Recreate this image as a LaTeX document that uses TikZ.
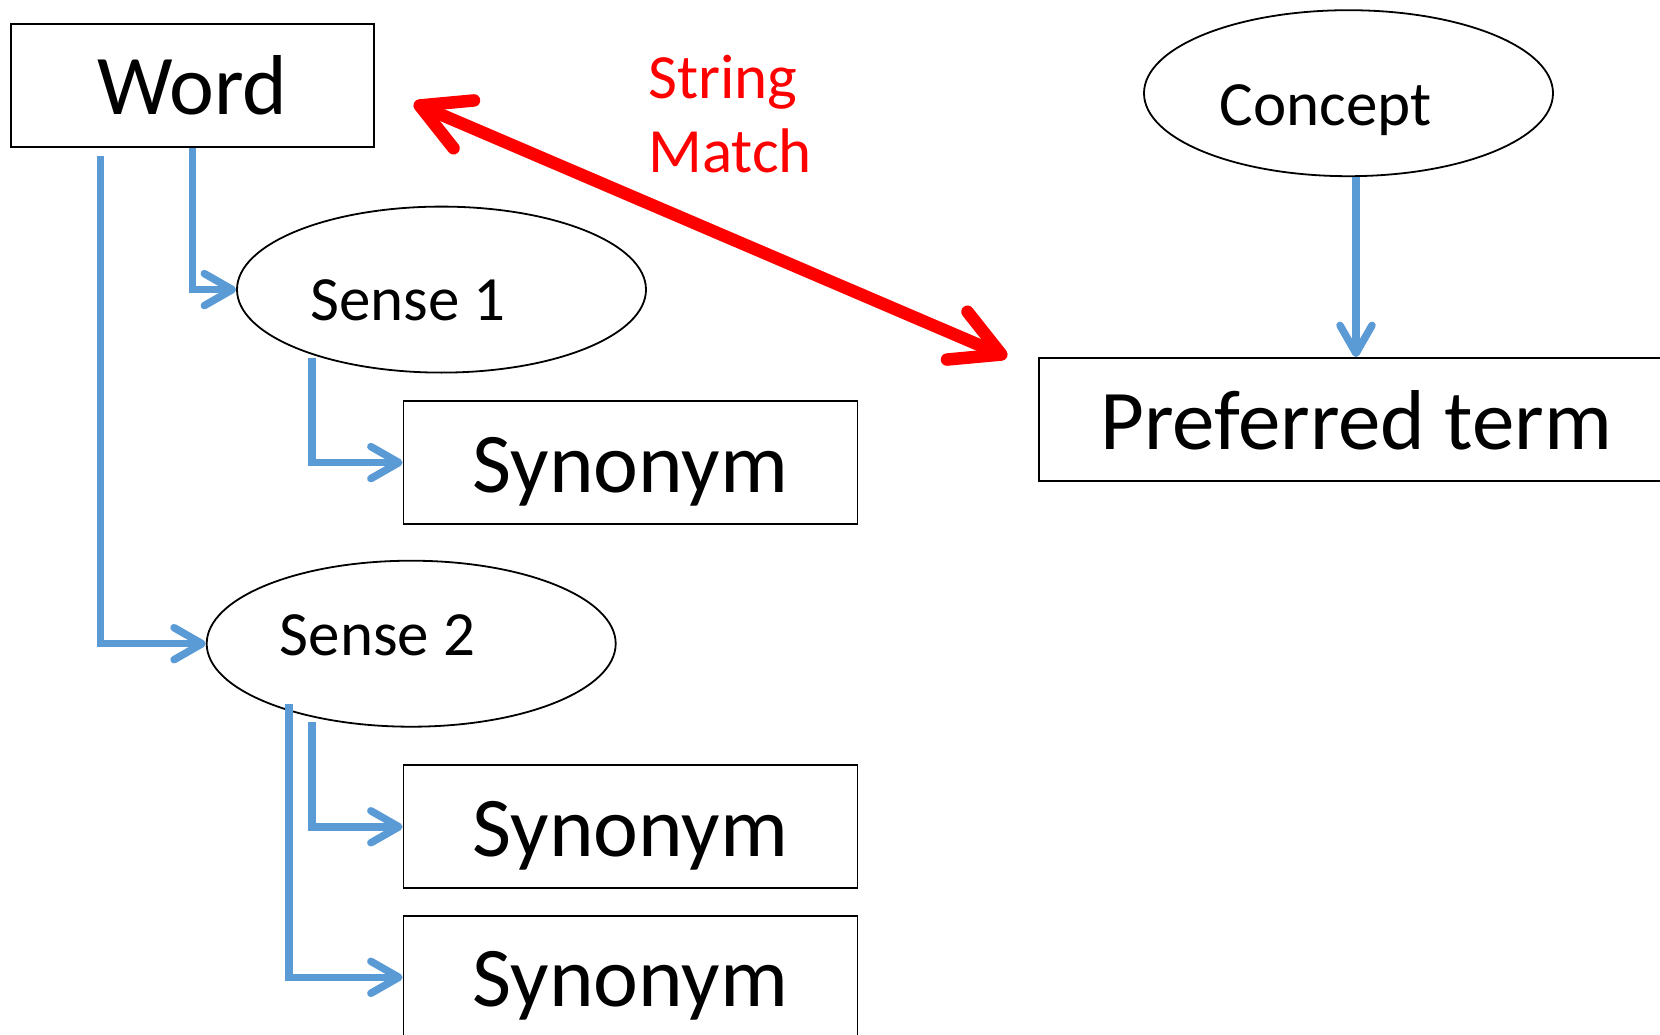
\documentclass[tikz,border=0pt]{standalone}
\usepackage{fontspec}
\setmainfont{Carlito}
\usetikzlibrary{arrows.meta,calc,shapes.geometric}
\definecolor{linkblue}{HTML}{5B9BD5}
\begin{document}
\begin{tikzpicture}[x=1pt,y=-1pt,
  box/.style={draw=black, line width=1.8pt, rectangle, inner sep=0pt,
    minimum width=454pt, minimum height=123pt,
    font=\fontsize{85}{102}\selectfont, text height=59pt, text depth=0pt},
  oval/.style={draw=black, line width=1.8pt, ellipse, inner sep=0pt,
    minimum width=409pt, minimum height=166pt,
    font=\fontsize{63}{76}\selectfont, text depth=0pt},
  link/.style={draw=linkblue, line width=7.5pt,
    -{Straight Barb[length=28pt,width=32pt,round]}},
  match/.style={draw=red, line width=12.5pt,
    {Straight Barb[length=48pt,width=52pt,round]}-{Straight Barb[length=48pt,width=52pt,round]}}
]
\useasboundingbox (0,0) rectangle (1660,1035);
\fill[white] (0,0) rectangle (1660,1035);
\clip (0,0) rectangle (1660,1035);

% word, senses and synonyms
\node[box, minimum width=363pt] (word) at (192.5,85.5) {Word};
\node[oval, text height=62pt] (s1) at (441.5,289.6) {\hspace*{-67pt}Sense 1};
\node[oval, text height=23pt] (s2) at (411.2,643.7) {\hspace*{-67pt}Sense 2};
\node[box] (syn1) at (630.5,462.6) {Synonym};
\node[box] (syn2) at (630.5,826.8) {Synonym};
\node[box] (syn3) at (630.5,977.3) {Synonym};

% concept side
\node[oval, text height=64pt] (concept) at (1348.5,93.2) {\hspace*{-46pt}Concept};
\node[box, minimum width=634pt] (pref) at (1356,419.5) {Preferred term};

% string match label (anchored on the baseline of its last line)
\node[text=red, font=\fontsize{63}{74}\selectfont, align=left, anchor=base west,
  inner sep=0pt] (matchlbl) at (648,172.6) {String\\Match};

% hierarchy links
\draw[link] (word.south) |- (s1.west);
\coordinate (w2) at ($(word.south west)+(90.6,8.6)$);
\draw[link] (w2) |- (s2.west);
\coordinate (s1a) at ($(s1.center)+(-129.5,68.4)$);
\draw[link] (s1a) |- (syn1.west);
\coordinate (s2a) at ($(s2.center)+(-99.2,78.3)$);
\draw[link] (s2a) |- (syn2.west);
\coordinate (s2b) at ($(s2.center)+(-122.2,60.3)$);
\draw[link] (s2b) |- (syn3.west);
\draw[link] (pref.north |- concept.south) -- (pref.north);

% string match between word and preferred term
\coordinate (mL) at ($(word.east)+(39,17.5)$);
\coordinate (mR) at ($(pref.west)+(-31,-62.5)$);
\draw[match] (mL) -- (mR);
\end{tikzpicture}
\end{document}
